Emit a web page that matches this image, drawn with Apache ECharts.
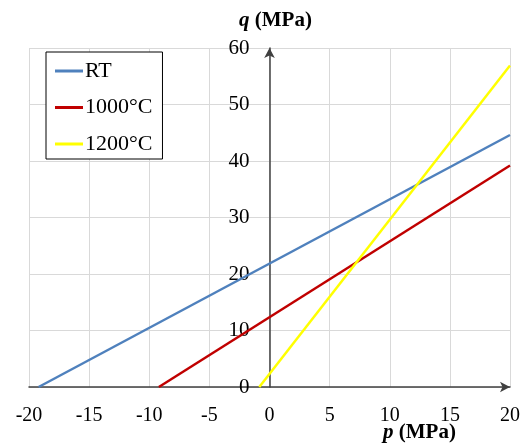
<!DOCTYPE html>
<html>
<head>
<meta charset="utf-8">
<script src="https://cdn.jsdelivr.net/npm/echarts@6/dist/echarts.min.js"></script>
<style>
	html, body { margin: 0; padding: 0; background: #fff; }
	#chart { width: 522px; height: 448px; }
</style>
</head>
<body>
<div id="chart"></div>
<script>
// endpoints of each failure line: [p, q]
const seriesNames = ['RT', '1000°C', '1200°C'];
const rtLine = [[-19.2, 0], [20, 44.6]];
const line1000 = [[-9.2, 0], [20, 39.2]];
const line1200 = [[-0.85, 0], [20, 56.9]];
const xTicks = { min: -20, max: 20, step: 5 };
const yTicks = { min: 0, max: 60, step: 10 };

const chart = echarts.init(document.getElementById('chart'));
const font = 'Liberation Serif';
const axisColor = '#404040';
const gridColor = '#d9d9d9';

const gridLeft = 29, gridRight = 12;
const plotWidth = 522 - gridLeft - gridRight;
// the q axis sits on p = 0, so shift it into the plot
const yOffset = -plotWidth * (0 - xTicks.min) / (xTicks.max - xTicks.min);

let option = {
	animation: false,
	color: ['#4f81bd', '#c00000', '#ffff00'],
	title: [
		{
			text: '{i|q} (MPa)',
			left: 239, top: 10, padding: 0,
			textStyle: {
				fontFamily: font, fontSize: 21, fontWeight: 'bold', color: '#000',
				rich: {i: {fontFamily: font, fontSize: 21, fontWeight: 'bold', fontStyle: 'italic', color: '#000'}}
			}
		},
		{
			text: '{i|p} (MPa)',
			left: 383, top: 422, padding: 0,
			textStyle: {
				fontFamily: font, fontSize: 21, fontWeight: 'bold', color: '#000',
				rich: {i: {fontFamily: font, fontSize: 21, fontWeight: 'bold', fontStyle: 'italic', color: '#000'}}
			}
		}
	],
	legend: {
		orient: 'vertical',
		left: 46, top: 52,
		padding: [8, 10, 4, 9],
		itemGap: 14.5,
		itemWidth: 28,
		itemHeight: 3,
		icon: 'rect',
		borderColor: '#000',
		borderWidth: 1,
		backgroundColor: '#fff',
		textStyle: {fontFamily: font, fontSize: 22, color: '#000', padding: [0, 0, 0, -3]},
		data: seriesNames
	},
	grid: {left: gridLeft, right: gridRight, top: 48, bottom: 61, outerBoundsMode: 'none', containLabel: false},
	xAxis: {
		type: 'value',
		min: xTicks.min, max: xTicks.max, interval: xTicks.step,
		axisLine: {
			onZero: true,
			symbol: ['none', 'arrow'], symbolSize: [8, 10],
			lineStyle: {color: axisColor, width: 1.5}
		},
		axisTick: {show: false},
		axisLabel: {fontFamily: font, fontSize: 20, color: '#000', margin: 19},
		splitLine: {lineStyle: {color: gridColor, width: 1}}
	},
	yAxis: {
		type: 'value',
		min: yTicks.min, max: yTicks.max, interval: yTicks.step,
		offset: yOffset,
		axisLine: {
			show: true, onZero: false,
			symbol: ['none', 'arrow'], symbolSize: [8, 10],
			lineStyle: {color: axisColor, width: 1.5}
		},
		axisTick: {show: false},
		axisLabel: {fontFamily: font, fontSize: 21, color: '#000', margin: 20},
		splitLine: {lineStyle: {color: gridColor, width: 1}}
	},
	series: [
		{name: seriesNames[0], type: 'line', symbol: 'none', lineStyle: {width: 2.5}, data: rtLine},
		{name: seriesNames[1], type: 'line', symbol: 'none', lineStyle: {width: 2.5}, data: line1000},
		{name: seriesNames[2], type: 'line', symbol: 'none', lineStyle: {width: 2.5}, data: line1200}
	]
};

option && chart.setOption(option);
</script>
</body>
</html>
